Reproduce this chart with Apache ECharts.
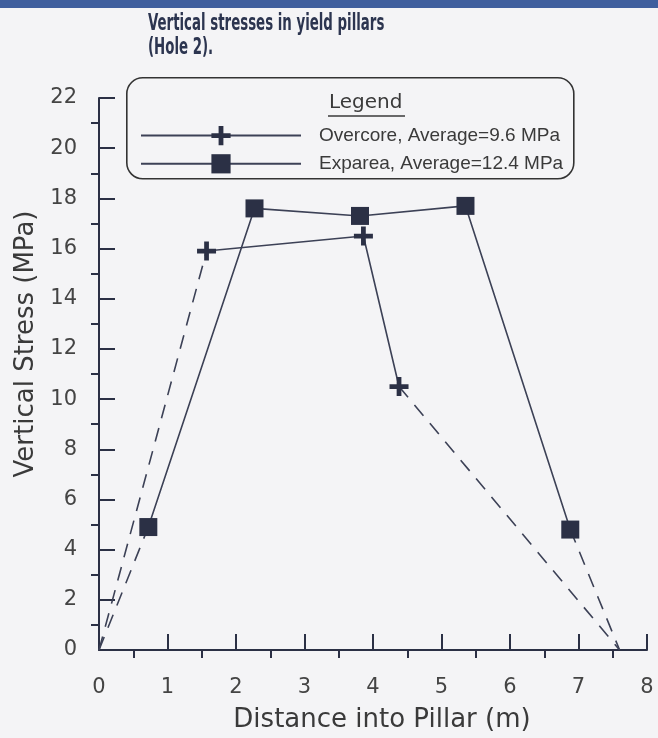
<!DOCTYPE html>
<html>
<head>
<meta charset="utf-8">
<title>Vertical stresses in yield pillars</title>
<script src="https://cdn.jsdelivr.net/npm/echarts@6/dist/echarts.min.js"></script>
<style>
  html, body { margin: 0; padding: 0; background: #f4f4f6; }
  #main { width: 658px; height: 738px; }
</style>
</head>
<body>
<div id="main"></div>
<script>
// measured points (distance into pillar m, vertical stress MPa)
const overcoreX = [1.57, 3.86, 4.38]
const overcoreY = [15.9, 16.5, 10.5]
const expareaX = [0.72, 2.27, 3.81, 5.35, 6.88]
const expareaY = [4.9, 17.6, 17.3, 17.7, 4.8]
// assumed zero stress at the pillar edges (dashed extrapolation)
const edgeX = [0, 7.6]
const edgeY = [0, 0]

const xTicks = [0, 1, 2, 3, 4, 5, 6, 7, 8]
const yTicks = [0, 2, 4, 6, 8, 10, 12, 14, 16, 18, 20, 22]

const overcoreName = 'Overcore, Average=9.6 MPa'
const expareaName = 'Exparea, Average=12.4 MPa'

const ink = '#2b3045'
const lineCol = '#3c4156'
const crossPath = 'path://M7.5,0H12.5V7.5H20V12.5H12.5V20H7.5V12.5H0V7.5H7.5Z'

const pairs = (xs, ys) => xs.map((x, i) => [x, ys[i]])
const overcore = pairs(overcoreX, overcoreY)
const exparea = pairs(expareaX, expareaY)

function dashed(data) {
  return {
    type: 'line',
    data: data,
    symbol: 'none',
    silent: true,
    z: 1,
    lineStyle: { color: lineCol, width: 1.6, type: [14, 10] }
  }
}

const axisFont = 'DejaVu Sans'

let myChart = echarts.init(document.getElementById('main'))
let option = {
  backgroundColor: '#f4f4f6',
  animation: false,
  legend: {
    data: [overcoreName, expareaName],
    orient: 'vertical',
    left: 140,
    top: 126,
    itemWidth: 160,
    itemHeight: 24,
    itemGap: 9,
    padding: 0,
    textStyle: { fontFamily: 'Liberation Sans', fontSize: 19, color: '#3a3a3a', padding: [0, 0, 0, 13] }
  },
  grid: { left: 99, right: 11, top: 98, bottom: 86 },
  xAxis: {
    type: 'value',
    min: xTicks[0],
    max: xTicks[xTicks.length - 1],
    interval: 1,
    name: 'Distance into Pillar (m)',
    nameLocation: 'middle',
    nameGap: 57,
    nameTextStyle: { fontFamily: axisFont, fontSize: 26, color: '#3a3a3a', padding: [0, 0, 0, 18] },
    splitLine: { show: false },
    axisLine: { lineStyle: { color: ink, width: 2 } },
    axisTick: { inside: true, length: 16, lineStyle: { color: ink, width: 2 } },
    minorTick: { show: true, splitNumber: 2, length: -8, lineStyle: { color: ink, width: 2 } },
    axisLabel: { fontFamily: axisFont, fontSize: 21, color: '#444', margin: 27 }
  },
  yAxis: {
    type: 'value',
    min: yTicks[0],
    max: yTicks[yTicks.length - 1],
    interval: 2,
    name: 'Vertical Stress (MPa)',
    nameLocation: 'middle',
    nameGap: 58,
    nameTextStyle: { fontFamily: axisFont, fontSize: 26, color: '#3a3a3a', padding: [0, 0, 0, 60] },
    splitLine: { show: false },
    axisLine: { show: true, lineStyle: { color: ink, width: 2 } },
    axisTick: { show: true, inside: true, length: 16, lineStyle: { color: ink, width: 2 } },
    minorTick: { show: true, splitNumber: 2, length: -8, lineStyle: { color: ink, width: 2 } },
    axisLabel: { fontFamily: axisFont, fontSize: 21, color: '#444', margin: 22 }
  },
  graphic: [
    { type: 'rect', left: 0, top: 0, shape: { width: 658, height: 8 }, style: { fill: '#3f5f9e' }, z: 10 },
    {
      // condensed bold title
      type: 'text', x: 148, y: 12, scaleX: 0.645,
      style: {
        text: 'Vertical stresses in yield pillars\n(Hole 2).',
        font: 'bold 23px "DejaVu Sans Condensed", sans-serif',
        lineHeight: 24,
        fill: '#2c3550'
      }, z: 10
    },
    {
      type: 'rect', left: 126, top: 77,
      shape: { width: 447, height: 101, r: 16 },
      style: { fill: 'transparent', stroke: '#333', lineWidth: 1.6 }, z: 5
    },
    {
      type: 'text', left: 329, top: 93,
      style: { text: 'Legend', font: '20px "DejaVu Sans"', fill: '#3a3a3a' }, z: 5
    },
    {
      type: 'line', z: 5,
      shape: { x1: 328, y1: 116, x2: 405, y2: 116 },
      style: { stroke: '#3a3a3a', lineWidth: 1.4 }
    }
  ],
  series: [
    dashed([[edgeX[0], edgeY[0]], overcore[0]]),
    dashed([overcore[overcore.length - 1], [edgeX[1], edgeY[1]]]),
    dashed([[edgeX[0], edgeY[0]], exparea[0]]),
    dashed([exparea[exparea.length - 1], [edgeX[1], edgeY[1]]]),
    {
      name: overcoreName,
      type: 'line',
      data: overcore,
      symbol: crossPath,
      symbolSize: 19,
      z: 3,
      itemStyle: { color: ink },
      lineStyle: { color: lineCol, width: 1.6 }
    },
    {
      name: expareaName,
      type: 'line',
      data: exparea,
      symbol: 'rect',
      symbolSize: 18,
      z: 3,
      itemStyle: { color: ink },
      lineStyle: { color: lineCol, width: 1.6 }
    }
  ]
}
myChart.setOption(option)
</script>
</body>
</html>
